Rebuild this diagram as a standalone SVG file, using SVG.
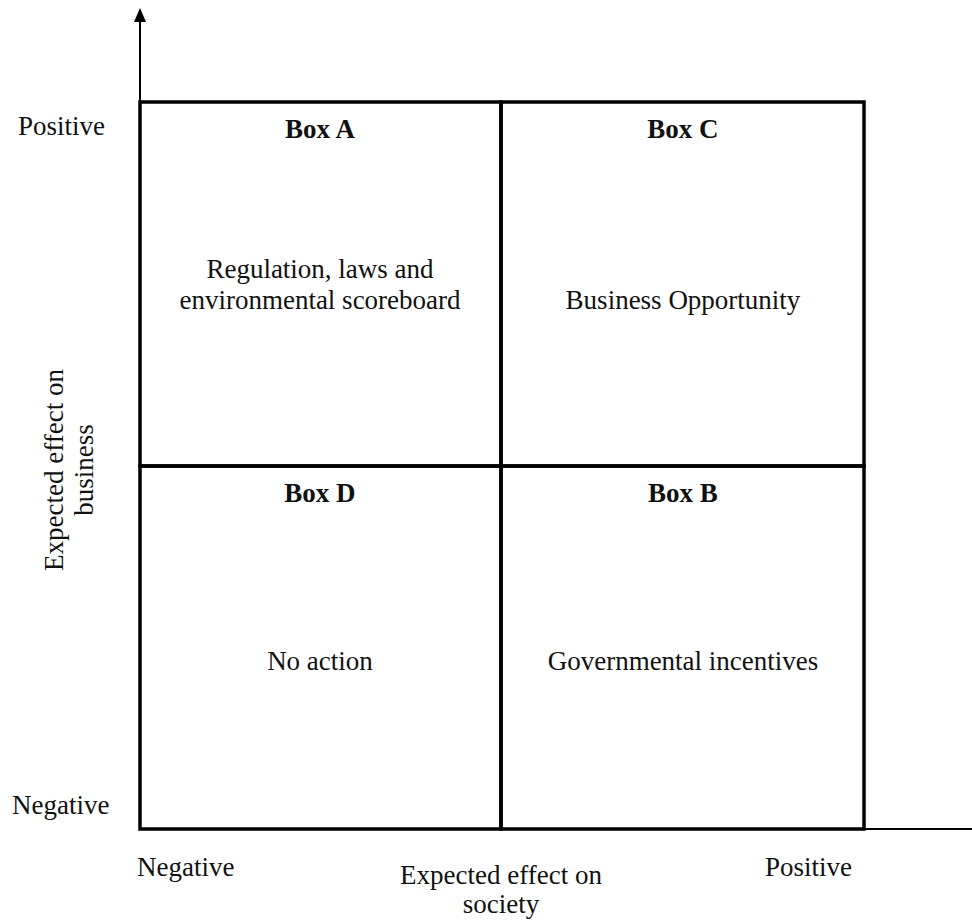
<svg xmlns="http://www.w3.org/2000/svg" width="972" height="921" viewBox="0 0 972 921">
<style>
text{font-family:"Liberation Serif","Times New Roman",serif;font-size:27px;fill:#111}
.b{font-weight:bold}
.c{text-anchor:middle}
.box{fill:none;stroke:#000;stroke-width:3.5}
.ax{stroke:#000;stroke-width:2;fill:none}
</style>
<defs>
<marker id="arr" markerWidth="12" markerHeight="14" refX="6" refY="2" orient="0" markerUnits="userSpaceOnUse" viewBox="0 0 12 14">
<path d="M6 0 L12 14 L0 14 Z" fill="#000"/>
</marker>
</defs>
<g id="axes">
<line class="ax" x1="140" y1="829" x2="140" y2="10" marker-end="url(#arr)"/>
<line class="ax" x1="864" y1="829" x2="972" y2="829"/>
</g>
<g id="boxA"><rect class="box" x="140" y="102" width="361" height="364"/>
<text class="b c" x="320" y="138">Box A</text>
<text class="c" x="320" y="278">Regulation, laws and</text>
<text class="c" x="320" y="309">environmental scoreboard</text></g>
<g id="boxC"><rect class="box" x="501" y="102" width="363" height="364"/>
<text class="b c" x="683" y="138">Box C</text>
<text class="c" x="683" y="309">Business Opportunity</text></g>
<g id="boxD"><rect class="box" x="140" y="466" width="361" height="363"/>
<text class="b c" x="320" y="502">Box D</text>
<text class="c" x="320" y="670">No action</text></g>
<g id="boxB"><rect class="box" x="501" y="466" width="363" height="363"/>
<text class="b c" x="683" y="502">Box B</text>
<text class="c" x="683" y="670">Governmental incentives</text></g>
<g id="labels">
<text x="18" y="135">Positive</text>
<text x="12" y="814">Negative</text>
<text x="137" y="876">Negative</text>
<text x="765" y="876">Positive</text>
<text class="c" x="501" y="884">Expected effect on</text>
<text class="c" x="501" y="913">society</text>
<text class="c" transform="translate(63,470) rotate(-90)">Expected effect on</text>
<text class="c" transform="translate(93,470) rotate(-90)">business</text>
</g>
</svg>
